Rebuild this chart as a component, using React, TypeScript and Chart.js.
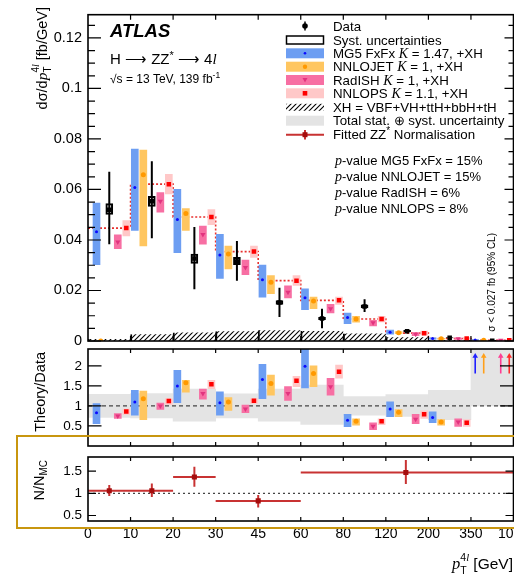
import React, { useEffect, useRef } from 'react';
import { Chart, registerables } from 'chart.js';

Chart.register(...registerables);

// ---------------- binning ----------------
const binEdgeLabels = ['0', '10', '20', '30', '45', '60', '80', '120', '200', '350', '1000'];

// ---------------- main panel: dσ/dpT [fb/GeV] ----------------
const dataVal = [0.052, 0.0553, 0.0327, 0.0315, 0.0152, 0.0089, 0.0137, 0.0039, 0.0013, 0.0001];
const dataLo = [0.0383, 0.0407, 0.0205, 0.0239, 0.0095, 0.005, 0.0115, 0.0031, 0.0008, 0.0];
const dataHi = [0.067, 0.0712, 0.0451, 0.0396, 0.0211, 0.0128, 0.0165, 0.0047, 0.0019, 0.0004];
const systLo = [0.0501, 0.0533, 0.0307, 0.0302, 0.0145, 0.0084, 0.0131, 0.0036, 0.0012, 0.0];
const systHi = [0.0544, 0.0573, 0.0344, 0.0331, 0.016, 0.0094, 0.0143, 0.0042, 0.0014, 0.0003];

const mg5Val = [0.0433, 0.0608, 0.0481, 0.0341, 0.0243, 0.0171, 0.0093, 0.0035, 0.001, 0.0004];
const mg5Lo = [0.0302, 0.0438, 0.035, 0.0248, 0.0174, 0.0124, 0.0069, 0.0027, 0.0007, 0.0002];
const mg5Hi = [0.0546, 0.076, 0.0601, 0.0422, 0.0301, 0.0207, 0.0111, 0.0043, 0.0013, 0.0006];

const jetVal = [0.0, 0.0658, 0.0505, 0.0344, 0.0233, 0.0158, 0.0087, 0.0033, 0.0009, 0.0003];
const jetLo = [null, 0.0376, 0.0438, 0.0285, 0.0187, 0.0128, 0.0075, 0.0029, 0.0007, 0.0002];
const jetHi = [null, 0.0756, 0.0524, 0.0376, 0.0259, 0.0174, 0.0098, 0.0037, 0.0011, 0.0004];

const radVal = [0.0392, 0.0553, 0.0422, 0.0291, 0.0193, 0.0128, 0.0072, 0.0027, 0.0009, 0.0003];
const radLo = [0.0366, 0.051, 0.0383, 0.0263, 0.0171, 0.0111, 0.006, 0.0021, 0.0006, 0.0002];
const radHi = [0.042, 0.0588, 0.0455, 0.032, 0.0218, 0.0145, 0.0082, 0.0033, 0.0012, 0.0005];

const opsVal = [0.0447, 0.0621, 0.0491, 0.0354, 0.0239, 0.0161, 0.0087, 0.0031, 0.001, 0.0003];
const opsLo = [0.0416, 0.0582, 0.0461, 0.0331, 0.022, 0.0145, 0.0076, 0.0024, 0.0007, 0.0002];
const opsHi = [0.0477, 0.066, 0.052, 0.0376, 0.0259, 0.0174, 0.0098, 0.0039, 0.0013, 0.0005];

const xhVal = [0.0008, 0.0027, 0.0034, 0.0039, 0.0043, 0.004, 0.003, 0.0015, 0.0004, 0.0001];

// ---------------- ratio panel: Theory/Data ----------------
const mg5R = [0.83, 1.1, 1.5, 1.08, 1.66, 1.99, 0.64, 0.92, 0.71, null];
const mg5RLo = [0.56, 0.77, 1.08, 0.77, 1.18, 1.45, 0.48, 0.73, 0.58, null];
const mg5RHi = [1.06, 1.39, 1.89, 1.35, 2.04, 2.6, 0.79, 1.1, 0.85, null];
const jetR = [null, 1.18, 1.58, 1.1, 1.56, 1.81, 0.62, 0.84, 0.6, null];
const jetRLo = [null, 0.66, 1.34, 0.89, 1.27, 1.48, 0.52, 0.73, 0.52, null];
const jetRHi = [null, 1.37, 1.64, 1.21, 1.77, 2.0, 0.68, 0.91, 0.66, null];
const radR = [0.75, 1.0, 1.31, 0.92, 1.31, 1.48, 0.49, 0.67, 0.6, null];
const radRLo = [0.69, 0.91, 1.17, 0.83, 1.14, 1.27, 0.41, 0.56, 0.49, null];
const radRHi = [0.81, 1.07, 1.42, 1.02, 1.48, 1.69, 0.58, 0.79, 0.68, null];
const opsR = [0.86, 1.12, 1.54, 1.13, 1.63, 1.85, 0.62, 0.79, 0.58, null];
const opsRLo = [0.79, 1.04, 1.43, 1.06, 1.48, 1.69, 0.53, 0.69, 0.49, null];
const opsRHi = [0.92, 1.18, 1.64, 1.18, 1.74, 2.02, 0.68, 0.88, 0.66, null];
const totalLo = [0.71, 0.7, 0.62, 0.7, 0.62, 0.54, 0.77, 0.74, 0.66, 1.0];
const totalHi = [1.29, 1.31, 1.42, 1.3, 1.42, 1.52, 1.23, 1.28, 1.39, 3.0];
const arrowRange = [1.81, 2.24];

// ---------------- bottom panel: N/N_MC ----------------
const nmcX = [0.5, 1.5, 2.5, 4, 7.47];
const nmcXLo = [0, 1, 2, 3, 5];
const nmcXHi = [1, 2, 3, 5, 10];
const nmcVal = [1.06, 1.06, 1.37, 0.83, 1.47];
const nmcLo = [0.94, 0.92, 1.15, 0.68, 1.21];
const nmcHi = [1.19, 1.22, 1.6, 0.96, 1.75];

// ---------------- axes / text ----------------
const mainYTicks = [0, 0.02, 0.04, 0.06, 0.08, 0.1, 0.12];
const mainYLabels = ['0', '0.02', '0.04', '0.06', '0.08', '0.1', '0.12'];
const ratioYTicks = [0.5, 1, 1.5, 2];
const ratioYLabels = ['0.5', '1', '1.5', '2'];
const nmcYTicks = [0.5, 1, 1.5];
const nmcYLabels = ['0.5', '1', '1.5'];
const modelNames = ['MG5 FxFx', 'NNLOJET', 'RadISH', 'NNLOPS'];
const modelK = ['1.47', '1', '1', '1.1'];
const pValues = ['15%', '15%', '6%', '8%'];

// ---------------- style ----------------
const W = 540;
const H = 578;
const RIGHT = 513.5;
const BIN_W = 42.55;
const SANS = '"Liberation Sans", Arial, Helvetica, sans-serif';
const SERIF = '"Liberation Serif", "Times New Roman", serif';
const sans = (px: number, style = '') => `${style} ${px}px ${SANS}`.trim();
const serifI = (px: number) => `italic ${px}px ${SERIF}`;
const C = {
  mg5Box: '#6d9ef2', mg5Mark: '#0a0aff',
  jetBox: '#ffc660', jetMark: '#ff9900',
  radBox: '#f76fa3', radMark: '#e2337f',
  opsBox: '#ffc8c8', opsMark: '#ff0000',
  band: '#e4e4e4', fit: '#c83232', fitMark: '#a50d0d', gold: '#c8960f',
  arrows: ['#2020ff', '#ffa01a', '#ff3d93', '#ff2b2b'],
};

const bins = binEdgeLabels.slice(0, -1).map((_, i) => i);
const xAt = (off: number, first?: number) => bins.map((i) => i + (i === 0 && first !== undefined ? first : off));
const mg5X = xAt(0.1, 0.2);
const jetX = xAt(0.3);
const dataX = xAt(0.5);
const radX = xAt(0.7);
const opsX = xAt(0.9);
const modelOffsets = [0.1, 0.3, 0.7, 0.9];

const boxData = (xs: number[], lo: any[], hi: any[]) =>
  xs.flatMap((x, i) => (lo[i] == null || hi[i] == null ? [] : [{ x, y: [lo[i], hi[i]] }]));
const segData = (xs: number[], lo: any[], hi: any[]) =>
  xs.flatMap((x, i) => (lo[i] == null || hi[i] == null ? [] : [{ x, y: lo[i] }, { x, y: hi[i] }, { x, y: null }]));
const ptData = (xs: number[], v: any[]) => xs.flatMap((x, i) => (v[i] == null ? [] : [{ x, y: v[i] }]));

const boxDs = (data: any[], color: any, order: number, thick = 7, extra: any = {}) => ({
  type: 'bar', data, backgroundColor: color, borderWidth: 0, barThickness: thick, stack: 'all', order, ...extra,
});
const segDs = (data: any[], color: string, order: number, width = 2, extra: any = {}) => ({
  type: 'line', data, borderColor: color, borderWidth: width, pointRadius: 0, spanGaps: false, order, ...extra,
});
const markDs = (data: any[], color: string, style: string, radius: number, order: number, rotation = 0) => ({
  type: 'line', data, showLine: false, pointStyle: style, pointRadius: radius, pointBackgroundColor: color,
  pointBorderColor: color, pointBorderWidth: 0, rotation, order,
});

// ---------------- rich text ----------------
type Run = { t: string; f: string; dy?: number };
type Stack = { up: Run[]; down: Run[] };
type Seg = Run | Stack;
function runsWidth(ctx: CanvasRenderingContext2D, runs: Seg[]): number {
  let w = 0;
  for (const s of runs) {
    if ('up' in s) w += Math.max(runsWidth(ctx, s.up), runsWidth(ctx, s.down));
    else { ctx.font = s.f; w += ctx.measureText(s.t).width; }
  }
  return w;
}
function drawRuns(ctx: CanvasRenderingContext2D, runs: Seg[], x: number, y: number, align = 'left') {
  let cx = align === 'right' ? x - runsWidth(ctx, runs) : x;
  ctx.textAlign = 'left';
  ctx.textBaseline = 'alphabetic';
  for (const s of runs) {
    if ('up' in s) {
      drawRuns(ctx, s.up, cx, y);
      drawRuns(ctx, s.down, cx, y);
      cx += Math.max(runsWidth(ctx, s.up), runsWidth(ctx, s.down));
    } else {
      ctx.font = s.f;
      ctx.fillText(s.t, cx, y + (s.dy || 0));
      cx += ctx.measureText(s.t).width;
    }
  }
}
function drawRotated(ctx: CanvasRenderingContext2D, runs: Seg[], baseX: number, topY: number) {
  ctx.save();
  ctx.translate(baseX, topY);
  ctx.rotate(-Math.PI / 2);
  drawRuns(ctx, runs, 0, 0, 'right');
  ctx.restore();
}

// ---------------- scales ----------------
const xScale = (display: boolean) => ({
  type: 'linear', min: 0, max: binEdgeLabels.length - 1, offset: false, display,
  grid: { display: false, drawTicks: false, offset: false }, border: { display: false },
  afterBuildTicks: (s: any) => { s.ticks = binEdgeLabels.map((_, i) => ({ value: i })); },
  ticks: { autoSkip: false, maxRotation: 0, minRotation: 0, padding: 5, color: '#000', font: { size: 14 },
    callback: (_v: any, i: number) => binEdgeLabels[i] },
  afterFit: (s: any) => { s.height = display ? 57 : 0; },
});
const yScale = (min: number, max: number, ticks: number[], labels: string[], size: number) => ({
  type: 'linear', min, max, position: 'left', stacked: false,
  grid: { display: false, drawTicks: false }, border: { display: false },
  afterBuildTicks: (s: any) => { s.ticks = ticks.map((v) => ({ value: v })); },
  ticks: { padding: 6, color: '#000', font: { size }, callback: (_v: any, i: number) => labels[i] },
  afterFit: (s: any) => { s.width = 88; },
});

function framePlugin(o: any) {
  return {
    id: 'atlasFrame',
    afterDatasetsDraw(chart: any) {
      const { ctx, chartArea: a } = chart;
      const sx = chart.scales.x;
      const sy = chart.scales.y;
      ctx.save();
      ctx.strokeStyle = '#000';
      ctx.lineWidth = 1.2;
      ctx.beginPath();
      for (let i = 1; i < binEdgeLabels.length - 1; i++) {
        const px = sx.getPixelForValue(i);
        ctx.moveTo(px, a.top); ctx.lineTo(px, a.top + o.xLen);
        ctx.moveTo(px, a.bottom); ctx.lineTo(px, a.bottom - o.xLen);
      }
      const yt = (vals: number[], l: number, r: number) => vals.forEach((v) => {
        const py = sy.getPixelForValue(v);
        ctx.moveTo(a.left, py); ctx.lineTo(a.left + l, py);
        ctx.moveTo(a.right, py); ctx.lineTo(a.right - r, py);
      });
      yt(o.yMajor, o.lMaj, o.rMaj);
      if (o.yMinor) yt(o.yMinor, o.lMin, o.rMin);
      ctx.stroke();
      ctx.lineWidth = 1.6;
      ctx.strokeRect(a.left, a.top, a.right - a.left, a.bottom - a.top);
      ctx.restore();
    },
  };
}

const baseOptions = (padTop: number, padBottom: number, x: any, y: any) => ({
  responsive: false, animation: false, events: [],
  layout: { padding: { left: 0, right: W - RIGHT, top: padTop, bottom: padBottom } },
  plugins: { legend: { display: false }, tooltip: { enabled: false } },
  scales: { x, y },
});

function makeHatch() {
  const c = document.createElement('canvas');
  c.width = 5; c.height = 5;
  const g = c.getContext('2d')!;
  g.strokeStyle = '#000';
  g.lineWidth = 1.1;
  g.beginPath();
  g.moveTo(0, 5); g.lineTo(5, 0);
  g.moveTo(-1, 1); g.lineTo(1, -1);
  g.moveTo(4, 6); g.lineTo(6, 4);
  g.stroke();
  return g.createPattern(c, 'repeat');
}

function mainConfig(hatch: any): any {
  const minor: number[] = [];
  for (let v = 0.005; v < 0.129; v += 0.005) {
    if (!mainYTicks.some((t) => Math.abs(t - v) < 1e-9)) minor.push(v);
  }
  const textPlugin = {
    id: 'mainText',
    afterDraw(chart: any) {
      const ctx = chart.ctx as CanvasRenderingContext2D;
      ctx.save();
      ctx.fillStyle = '#000';
      drawRuns(ctx, [{ t: 'ATLAS', f: sans(18.5, 'italic bold') }], 110, 37);
      drawRuns(ctx, [
        { t: 'H ⟶ ZZ', f: sans(15) }, { t: '*', f: sans(11), dy: -5 },
        { t: ' ⟶ 4', f: sans(15) }, { t: 'l', f: serifI(15) },
      ], 110, 64);
      drawRuns(ctx, [
        { t: '√s = 13 TeV, 139 fb', f: sans(12) }, { t: '-1', f: sans(8.5), dy: -5 },
      ], 110, 83);
      const X0 = 286, X1 = 324, XC = 305, TX = 333;
      const rows = [26, 40, 53.3, 66.7, 80, 93.3, 107.3, 120.7, 134.7];
      const F = sans(13.3);
      const KF = serifI(14);
      ctx.strokeStyle = '#000';
      ctx.lineWidth = 1.5;
      ctx.beginPath(); ctx.moveTo(XC, rows[0] - 4.5); ctx.lineTo(XC, rows[0] + 4.5); ctx.stroke();
      ctx.beginPath(); ctx.arc(XC, rows[0], 2.8, 0, Math.PI * 2); ctx.fill();
      drawRuns(ctx, [{ t: 'Data', f: F }], TX, rows[0] + 4.7);
      ctx.strokeRect(X0 + 0.5, rows[1] - 4, X1 - X0 - 1, 8);
      drawRuns(ctx, [{ t: 'Syst. uncertainties', f: F }], TX, rows[1] + 4.7);
      const boxCols = [C.mg5Box, C.jetBox, C.radBox, C.opsBox];
      const markCols = [C.mg5Mark, C.jetMark, C.radMark, C.opsMark];
      modelNames.forEach((m, k) => {
        const y = rows[2 + k];
        ctx.fillStyle = boxCols[k];
        ctx.fillRect(X0, y - 5, X1 - X0, 10);
        ctx.fillStyle = markCols[k];
        ctx.beginPath();
        if (k === 0) ctx.arc(XC, y, 1.3, 0, Math.PI * 2);
        else if (k === 1) ctx.arc(XC, y, 2.2, 0, Math.PI * 2);
        else if (k === 2) { ctx.moveTo(XC - 2.5, y - 2); ctx.lineTo(XC + 2.5, y - 2); ctx.lineTo(XC, y + 2.5); ctx.closePath(); }
        else ctx.rect(XC - 2.3, y - 2.3, 4.6, 4.6);
        ctx.fill();
        ctx.fillStyle = '#000';
        drawRuns(ctx, [{ t: m + ' ', f: F }, { t: 'K', f: KF }, { t: ' = ' + modelK[k] + ', +XH', f: F }], TX, y + 4.7);
      });
      ctx.fillStyle = hatch;
      ctx.fillRect(X0, rows[6] - 3.5, X1 - X0, 7);
      ctx.fillStyle = '#000';
      drawRuns(ctx, [{ t: 'XH = VBF+VH+ttH+bbH+tH', f: F }], TX, rows[6] + 4.7);
      ctx.fillStyle = C.band;
      ctx.fillRect(X0, rows[7] - 5, X1 - X0, 10);
      ctx.fillStyle = '#000';
      drawRuns(ctx, [{ t: 'Total stat. ⊕ syst. uncertainty', f: F }], TX, rows[7] + 4.7);
      ctx.strokeStyle = C.fit;
      ctx.lineWidth = 2;
      ctx.beginPath();
      ctx.moveTo(X0, rows[8]); ctx.lineTo(X1, rows[8]);
      ctx.moveTo(XC, rows[8] - 4.7); ctx.lineTo(XC, rows[8] + 4.7);
      ctx.stroke();
      ctx.fillStyle = C.fitMark;
      ctx.fillRect(XC - 2.5, rows[8] - 2.5, 5, 5);
      ctx.fillStyle = '#000';
      drawRuns(ctx, [{ t: 'Fitted ZZ', f: F }, { t: '*', f: sans(10), dy: -5 }, { t: ' Normalisation', f: F }], TX, rows[8] + 4.7);
      modelNames.forEach((m, k) => {
        drawRuns(ctx, [{ t: 'p', f: serifI(14) }, { t: '-value ' + m + ' = ' + pValues[k], f: sans(13) }], 335, 165 + 16 * k);
      });
      drawRotated(ctx, [{ t: 'σ < 0.027 fb (95% CL)', f: sans(10) }], 495, 233);
      drawRotated(ctx, [
        { t: 'dσ/d', f: sans(14.5) }, { t: 'p', f: serifI(15.5) },
        { up: [{ t: '4', f: sans(10), dy: -8 }, { t: 'l', f: serifI(10), dy: -8 }], down: [{ t: 'T', f: sans(10), dy: 4 }] },
        { t: ' [fb/GeV]', f: sans(14.5) },
      ], 46.5, 7);
      ctx.restore();
    },
  };
  return {
    type: 'bar',
    data: {
      datasets: [
        boxDs(dataX.map((x, i) => ({ x, y: xhVal[i] })), hatch, 30, BIN_W,
          { borderColor: '#000', borderWidth: { left: 1.2, right: 0, top: 0, bottom: 0 }, borderSkipped: false }),
        segDs([...opsVal.map((v, i) => ({ x: i, y: v })), { x: opsVal.length, y: opsVal[opsVal.length - 1] }],
          '#e8302e', 29, 1.6, { stepped: true, borderDash: [2, 2] }),
        boxDs(boxData(mg5X, mg5Lo, mg5Hi), C.mg5Box, 25),
        boxDs(boxData(jetX, jetLo, jetHi), C.jetBox, 25),
        boxDs(boxData(radX, radLo, radHi), C.radBox, 25),
        boxDs(boxData(opsX, opsLo, opsHi), C.opsBox, 25),
        markDs(ptData(mg5X, mg5Val), C.mg5Mark, 'circle', 1.5, 20),
        markDs(ptData(jetX, jetVal), C.jetMark, 'circle', 2.5, 20),
        markDs(ptData(radX, radVal), C.radMark, 'triangle', 3, 20, 180),
        markDs(ptData(opsX, opsVal), C.opsMark, 'rect', 3.2, 20),
        boxDs(boxData(dataX, systLo, systHi), 'rgba(0,0,0,0)', 15, 7,
          { borderColor: '#000', borderWidth: 1.4, borderSkipped: false }),
        segDs(segData(dataX, dataLo, dataHi), '#000', 12, 2),
        markDs(ptData(dataX, dataVal), '#000', 'rect', 3.2, 10),
      ],
    },
    options: baseOptions(11, H - 341, xScale(false), yScale(0, 0.1292, mainYTicks, mainYLabels, 14.5)),
    plugins: [framePlugin({ xLen: 5, yMajor: mainYTicks, lMaj: 13, rMaj: 9, yMinor: minor, lMin: 7, rMin: 5 }), textPlugin],
  };
}

function ratioConfig(): any {
  const arrows: any[] = [];
  const last = bins.length - 1;
  modelOffsets.forEach((off, k) => {
    const x = last + off;
    arrows.push(segDs([{ x, y: arrowRange[0] }, { x, y: arrowRange[1] }], C.arrows[k], 6, 1.6));
    arrows.push(markDs([{ x, y: arrowRange[1] }], C.arrows[k], 'triangle', 3.2, 5));
  });
  const textPlugin = {
    id: 'ratioText',
    afterDraw(chart: any) {
      const ctx = chart.ctx as CanvasRenderingContext2D;
      ctx.save();
      ctx.fillStyle = '#000';
      drawRotated(ctx, [{ t: 'Theory/Data', f: sans(14.5) }], 45, 352);
      ctx.restore();
    },
  };
  return {
    type: 'bar',
    data: {
      datasets: [
        boxDs(boxData(dataX, totalLo, totalHi), C.band, 30, BIN_W),
        segDs([{ x: 0, y: 1 }, { x: binEdgeLabels.length - 1, y: 1 }], '#444', 29, 1.3, { borderDash: [4, 3] }),
        boxDs(boxData(mg5X, mg5RLo, mg5RHi), C.mg5Box, 25),
        boxDs(boxData(jetX, jetRLo, jetRHi), C.jetBox, 25),
        boxDs(boxData(radX, radRLo, radRHi), C.radBox, 25),
        boxDs(boxData(opsX, opsRLo, opsRHi), C.opsBox, 25),
        markDs(ptData(mg5X, mg5R), C.mg5Mark, 'circle', 1.5, 20),
        markDs(ptData(jetX, jetR), C.jetMark, 'circle', 2.5, 20),
        markDs(ptData(radX, radR), C.radMark, 'triangle', 3, 20, 180),
        markDs(ptData(opsX, opsR), C.opsMark, 'rect', 3.2, 20),
        ...arrows,
      ],
    },
    options: baseOptions(349, H - 446, xScale(false), yScale(0, 2.42, ratioYTicks, ratioYLabels, 13.5)),
    plugins: [framePlugin({ xLen: 4, yMajor: ratioYTicks, lMaj: 13.5, rMaj: 13.5 }), textPlugin],
  };
}

function nmcConfig(): any {
  const hsegs = nmcX.flatMap((_, i) => [
    { x: nmcXLo[i], y: nmcVal[i] }, { x: nmcXHi[i], y: nmcVal[i] }, { x: nmcXHi[i], y: null },
  ]);
  const textPlugin = {
    id: 'nmcText',
    afterDraw(chart: any) {
      const ctx = chart.ctx as CanvasRenderingContext2D;
      ctx.save();
      ctx.fillStyle = '#000';
      drawRotated(ctx, [{ t: 'N/N', f: sans(14.5) }, { t: 'MC', f: sans(10), dy: 3 }], 44, 460);
      drawRuns(ctx, [
        { t: 'p', f: serifI(16.5) },
        { up: [{ t: '4', f: sans(10.5), dy: -8.5 }, { t: 'l', f: serifI(10.5), dy: -8.5 }], down: [{ t: 'T', f: sans(10.5), dy: 5 }] },
        { t: ' [GeV]', f: sans(15.5) },
      ], 513, 569, 'right');
      ctx.restore();
    },
  };
  return {
    type: 'bar',
    data: {
      datasets: [
        segDs([{ x: 0, y: 1 }, { x: binEdgeLabels.length - 1, y: 1 }], '#444', 30, 1.3, { borderDash: [2, 3] }),
        segDs(hsegs, C.fit, 25, 2),
        segDs(segData(nmcX, nmcLo, nmcHi), C.fit, 24, 2),
        markDs(ptData(nmcX, nmcVal), C.fitMark, 'rect', 3.6, 20),
      ],
    },
    options: baseOptions(457, 0, xScale(true), yScale(0.376, 1.82, nmcYTicks, nmcYLabels, 13.5)),
    plugins: [framePlugin({ xLen: 4, yMajor: nmcYTicks, lMaj: 8, rMaj: 8 }), textPlugin],
  };
}

export default function App() {
  const mainRef = useRef<HTMLCanvasElement>(null);
  const ratioRef = useRef<HTMLCanvasElement>(null);
  const nmcRef = useRef<HTMLCanvasElement>(null);

  useEffect(() => {
    Chart.defaults.font.family = SANS;
    Chart.defaults.color = '#000';
    const hatch = makeHatch();
    const charts = [
      new Chart(mainRef.current as HTMLCanvasElement, mainConfig(hatch)),
      new Chart(ratioRef.current as HTMLCanvasElement, ratioConfig()),
      new Chart(nmcRef.current as HTMLCanvasElement, nmcConfig()),
    ];
    return () => charts.forEach((c) => c.destroy());
  }, []);

  const cs: React.CSSProperties = { position: 'absolute', left: 0, top: 0, width: W, height: H };
  return (
    <div style={{ position: 'absolute', left: 0, top: 0, width: 514, height: 578, overflow: 'hidden', background: '#fff' }}>
      <canvas ref={mainRef} width={W} height={H} style={cs} />
      <canvas ref={ratioRef} width={W} height={H} style={cs} />
      <canvas ref={nmcRef} width={W} height={H} style={cs} />
      <div
        style={{
          position: 'absolute', left: 15.5, top: 434.5, width: 520, height: 94,
          border: `2.5px solid ${C.gold}`, boxSizing: 'border-box', pointerEvents: 'none',
        }}
      />
    </div>
  );
}
